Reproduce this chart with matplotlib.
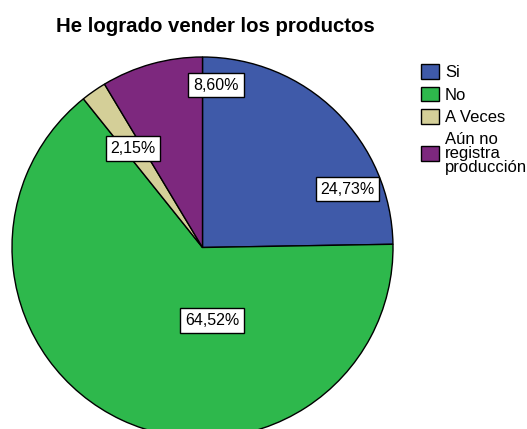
import matplotlib
matplotlib.use("Agg")
import matplotlib.pyplot as plt

plt.rcParams['font.family'] = ['Liberation Sans', 'DejaVu Sans']

categorias = ['Si', 'No', 'A Veces', 'Aún no\nregistra\nproducción']
porcentajes = [24.73, 64.52, 2.15, 8.60]
colores = ['#3f5aa9', '#2eb84c', '#d4cf98', '#7d287e']
# label spots (in pie radius units), SPSS places them a bit freely
pos_etiquetas = [(0.761, 0.307), (0.052, -0.383), (-0.365, 0.52), (0.071, 0.853)]

fig = plt.figure(figsize=(5.27, 4.29), dpi=100)
W, H = 527, 429
cx, cy, r = 202.5, 247.5, 190.5
ax = fig.add_axes([(cx - r) / W, (H - cy - r) / H, 2 * r / W, 2 * r / H])

wedges, _ = ax.pie(porcentajes, colors=colores, startangle=90, counterclock=False,
                   radius=1, wedgeprops=dict(edgecolor='black', linewidth=1))
ax.set_xlim(-1, 1)
ax.set_ylim(-1, 1)
ax.set_aspect('auto')
ax.axis('off')

for p, (x, y) in zip(porcentajes, pos_etiquetas):
    txt = ('%.2f%%' % p).replace('.', ',')
    ax.text(x, y, txt, ha='center', va='center', fontsize=11.5,
            bbox=dict(boxstyle='square,pad=0.3', fc='white', ec='black', lw=1))

fig.text(215 / W, 1 - 27 / H, 'He logrado vender los productos', ha='center', va='center',
         fontsize=14.7, fontweight='bold')

leg = fig.legend(wedges, categorias, loc='upper left', bbox_to_anchor=(421 / W, 1 - 64 / H),
                 frameon=False, fontsize=12, handlelength=1.08, handleheight=1.0,
                 handletextpad=0.35, labelspacing=0.38, borderaxespad=0, borderpad=0)
for t in leg.get_texts():
    t.set_linespacing(0.95)

fig.savefig('out.png', dpi=100)
